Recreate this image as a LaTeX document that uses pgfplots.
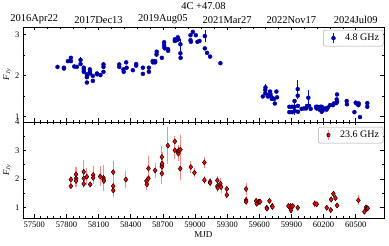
\documentclass[border=0pt]{standalone}
\usepackage{fontspec}
\setmainfont{Liberation Serif}
\usepackage{pgfplots}
\usepackage{pgfplotstable}
\pgfplotsset{compat=1.18}
\definecolor{navy}{rgb}{0,0,0.55}
\definecolor{lred}{rgb}{1,0.55,0.55}

\pgfplotstableread{
mjd f e
57717 2.21 0.03
57777 2.19 0.03
57777 2.17 0.03
57814 2.35 0.03
57842 2.43 0.03
57842 2.35 0.03
57873 2.22 0.02
57898 2.21 0.02
57932 2.38 0.06
57932 2.28 0.03
57962 2.19 0.03
57962 2.14 0.03
57962 2.09 0.03
57991 2.03 0.03
57991 1.96 0.03
57991 1.83 0.03
57993 1.99 0.03
58019 2.15 0.03
58019 2.09 0.03
58021 2.05 0.03
58047 1.99 0.02
58047 1.87 0.02
58085 2.05 0.03
58088 2.03 0.03
58118 2.01 0.02
58146 2.27 0.06
58146 2.21 0.04
58146 2.09 0.03
58293 2.27 0.03
58293 2.21 0.03
58332 2.15 0.03
58335 2.09 0.03
58358 2.32 0.03
58362 2.19 0.03
58420 2.13 0.02
58451 2.28 0.03
58451 2.24 0.03
58514 2.19 0.03
58514 2.04 0.03
58570 2.19 0.03
58570 2.09 0.03
58605 2.35 0.03
58608 2.32 0.03
58628 2.35 0.03
58628 2.32 0.03
58641 2.51 0.03
58643 2.58 0.03
58691 2.43 0.03
58712 2.81 0.04
58712 2.74 0.04
58715 2.68 0.04
58718 2.66 0.03
58749 2.64 0.03
58749 2.60 0.03
58812 2.88 0.04
58812 2.84 0.04
58830 2.86 0.03
58840 2.93 0.04
58845 2.88 0.03
58864 2.76 0.12
58864 2.54 0.15
58866 2.43 0.04
58958 2.98 0.04
58958 2.86 0.04
58962 2.82 0.04
58980 3.06 0.03
59008 2.98 0.03
59023 2.82 0.03
59042 2.84 0.03
59092 2.96 0.15
59092 2.66 0.04
59113 2.55 0.03
59141 2.46 0.03
59237 2.30 0.03
59633 1.49 0.03
59656 1.57 0.04
59656 1.65 0.05
59658 1.71 0.08
59678 1.53 0.03
59680 1.49 0.03
59701 1.61 0.04
59704 1.55 0.03
59707 1.49 0.03
59718 1.43 0.03
59720 1.46 0.03
59738 1.43 0.03
59745 1.32 0.03
59760 1.61 0.03
59766 1.47 0.03
59881 1.24 0.03
59881 1.11 0.03
59906 1.24 0.03
59906 1.11 0.03
59929 1.38 0.05
59929 1.24 0.20
59931 1.14 0.03
59959 1.67 0.22
59959 1.51 0.08
59961 1.26 0.04
59961 1.12 0.05
59996 1.19 0.03
60018 1.20 0.03
60037 1.20 0.03
60046 1.26 0.03
60058 1.46 0.18
60065 1.26 0.03
60080 1.19 0.03
60130 1.24 0.03
60135 1.20 0.03
60142 1.24 0.03
60155 1.22 0.03
60162 1.17 0.03
60170 1.24 0.03
60183 1.12 0.05
60183 1.24 0.03
60190 1.20 0.03
60200 1.17 0.03
60215 1.20 0.03
60228 1.17 0.03
60240 1.22 0.03
60260 1.28 0.03
60288 1.28 0.03
60295 1.32 0.03
60318 1.33 0.03
60323 1.42 0.03
60326 1.54 0.03
60326 1.36 0.03
60416 1.38 0.04
60418 1.30 0.03
60488 1.11 0.03
60500 1.34 0.03
60509 1.32 0.03
60525 1.28 0.03
60528 1.32 0.03
60540 0.99 0.03
60608 1.33 0.04
60608 1.24 0.03
}\tabA

\pgfplotstableread{
mjd f e
57842 1.98 0.12
57842 1.75 0.08
57890 2.16 0.25
57890 2.02 0.15
57890 1.93 0.20
57962 2.25 0.40
57962 2.02 0.20
57962 1.83 0.15
57991 2.08 0.30
58022 1.81 0.10
58050 2.14 0.30
58050 2.04 0.15
58115 2.09 0.35
58146 2.04 0.45
58146 1.98 0.20
58150 1.93 0.15
58237 2.24 0.38
58237 1.75 0.20
58237 1.60 0.25
58355 1.98 0.30
58547 1.93 0.15
58551 1.81 0.20
58566 2.37 0.45
58566 2.02 0.20
58628 2.30 0.25
58691 2.77 0.40
58691 2.49 0.35
58691 2.43 0.30
58693 2.54 0.40
58691 2.19 0.35
58747 3.17 0.65
58812 3.32 0.20
58812 3.01 0.30
58843 2.95 0.25
58845 2.89 0.25
58849 3.01 0.20
58864 3.03 0.50
58862 2.36 0.40
58961 2.42 0.20
58995 2.22 0.15
59088 2.58 0.20
59088 1.96 0.15
59141 1.90 0.12
59141 1.86 0.10
59209 1.95 0.15
59209 1.75 0.15
59212 1.69 0.15
59237 1.83 0.20
59244 1.72 0.20
59297 1.65 0.12
59297 1.44 0.12
59477 1.65 0.20
59477 1.26 0.15
59477 1.20 0.10
59570 1.23 0.10
59576 1.13 0.08
59592 1.20 0.10
59601 1.20 0.08
59608 1.20 0.08
59670 0.99 0.08
59672 0.96 0.08
59695 1.23 0.08
59721 1.05 0.10
59723 1.02 0.08
59872 1.05 0.08
59894 1.05 0.10
59894 0.97 0.08
59896 0.90 0.08
59913 1.05 0.08
59959 0.99 0.08
60118 1.13 0.12
60136 1.11 0.08
60230 0.99 0.08
60267 0.91 0.08
60270 1.28 0.12
60292 1.48 0.10
60311 1.33 0.08
60326 1.07 0.08
60525 1.25 0.18
60581 0.85 0.08
60596 1.00 0.08
60603 0.95 0.08
60612 0.97 0.08
}\tabB

\pgfplotsset{
  myax/.style={
    scale only axis, width=361pt,
    xmin=57395, xmax=60764,
    scaled x ticks=false,
    tick align=inside,
    major tick length=3.5pt, minor tick length=2pt,
    every tick/.style={black, line width=0.5pt},
    axis line style={line width=0.6pt},
    /pgf/number format/assume math mode=true,
    /pgf/number format/1000 sep={},
    tick label style={font=\fontsize{8.5}{10}\selectfont},
    label style={font=\fontsize{9}{10}\selectfont},
    legend style={font=\fontsize{10}{11}\selectfont, rounded corners=2pt, draw=gray!70, line width=0.5pt, inner xsep=2pt, inner ysep=2pt, anchor=north east},
    legend cell align=left,
  }
}

\begin{document}
\begin{tikzpicture}
% bottom panel
\begin{axis}[myax, at={(0,0)}, anchor=south west, height=96pt,
  ymin=0.63, ymax=4,
  ytick={1,2,3,4}, minor ytick={0.5,1.5,2.5,3.5},
  xtick={57500,57800,...,60500}, minor x tick num=4,
  xlabel={MJD}, xlabel style={yshift=3pt},
  ylabel={\textit{F}\textsubscript{\textit{Jy}}}, ylabel style={yshift=-3pt},
  legend style={at={(rel axis cs:0.998,0.95)}},
]
\addplot[only marks, mark=diamond*, mark size=2.6pt,
  mark options={fill=red, draw=black, line width=0.45pt},
  error bars/.cd, y dir=both, y explicit,
  error bar style={lred, line width=1.1pt}, error mark=none]
  table[x=mjd, y=f, y error=e] {\tabB};
\addlegendimage{legend image code/.code={
  \path[draw=none, fill=none] (0cm,0cm) (0.62cm,0cm);
  \draw[lred, line width=1.1pt] (0.28cm,-0.18cm) -- (0.28cm,0.18cm);
  \draw[black, fill=red, line width=0.45pt] (0.28cm,2.6pt) -- (0.28cm+2pt,0pt) -- (0.28cm,-2.6pt) -- (0.28cm-2pt,0pt) -- cycle;}}
\legend{,23.6 GHz}
\end{axis}
% top panel
\begin{axis}[myax, at={(0,96pt)}, anchor=south west, height=95pt,
  ymin=0.87, ymax=3.18,
  ytick={1,2,3}, minor ytick={1.5,2.5},
  xtick={57500,57800,...,60500}, minor x tick num=4,
  xtick pos=bottom, xticklabels={},
  ylabel={\textit{F}\textsubscript{\textit{Jy}}}, ylabel style={yshift=-3pt},
  legend style={at={(rel axis cs:0.998,0.97)}},
]
\addplot[only marks, mark=*, mark size=2pt,
  mark options={fill=navy, draw=blue!60!navy, line width=0.4pt},
  error bars/.cd, y dir=both, y explicit,
  error bar style={blue, line width=0.6pt}, error mark=none]
  table[x=mjd, y=f, y error=e] {\tabA};
\addlegendimage{legend image code/.code={
  \path[draw=none, fill=none] (0cm,0cm) (0.62cm,0cm);
  \draw[blue, line width=0.6pt] (0.28cm,-0.18cm) -- (0.28cm,0.18cm);
  \draw[blue!60!navy, fill=navy, line width=0.4pt] (0.28cm,0cm) circle (2pt);}}
\legend{,4.8 GHz}
\end{axis}
% top date axis
\begin{axis}[myax, at={(0,96pt)}, anchor=south west, height=95pt,
  ymin=0.87, ymax=3.18, hide y axis,
  axis x line*=top,
  xtick={57500,58100,...,60500}, minor x tick num=4,
  xticklabels={2016Apr22,2017Dec13,2019Aug05,2021Mar27,2022Nov17,2024Jul09},
  xticklabel style={font=\fontsize{10.5}{12}\selectfont, yshift=-0.5pt},
  title={4C +47.08}, title style={font=\fontsize{10.5}{12}\selectfont, at={(0.5,1)}, anchor=south, yshift=8pt},
]
\addplot[draw=none] coordinates {(57500,2)};
\end{axis}
\pgfresetboundingbox
\path[use as bounding box] (-23pt,-28pt) rectangle (366pt,218pt);
\end{tikzpicture}
\end{document}
